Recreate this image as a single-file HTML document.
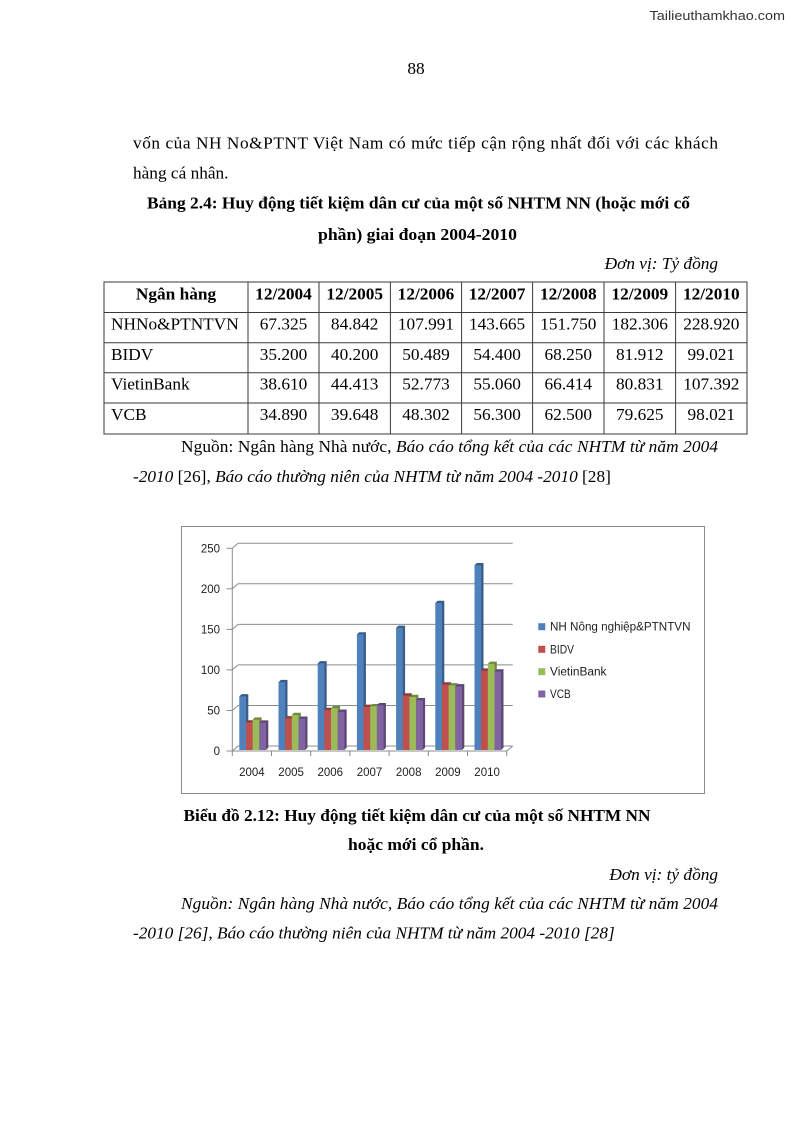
<!DOCTYPE html>
<html>
<head>
<meta charset="utf-8">
<style>
html,body{margin:0;padding:0;background:#fff;}
svg{display:block;}
.s{font-family:"Liberation Serif","Noto Serif CJK SC",serif;font-size:17.3px;fill:#000;white-space:pre;}
.b{font-weight:bold;}
.i{font-style:italic;}
.c{font-family:"Liberation Sans","DejaVu Sans",sans-serif;font-size:11.5px;fill:#222;}
.bl path{fill:#385D8A}.bl rect{fill:#4F81BD}
.rd path{fill:#8E3B39}.rd rect{fill:#C0504D}
.gr path{fill:#71893F}.gr rect{fill:#9BBB59}
.pu path{fill:#5C4776}.pu rect{fill:#8064A2}
</style>
</head>
<body>
<svg width="794" height="1123" viewBox="0 0 794 1123" xmlns="http://www.w3.org/2000/svg">
<rect x="0" y="0" width="794" height="1123" fill="#fff"/>

<!-- watermark -->
<text x="649.5" y="20" font-family="Liberation Sans, DejaVu Sans, sans-serif" font-size="13" fill="#333" textLength="135.5" lengthAdjust="spacingAndGlyphs">Tailieuthamkhao.com</text>

<!-- page number -->
<text class="s" x="416" y="74" text-anchor="middle">88</text>

<!-- paragraph -->
<text class="s" x="133" y="148.3" textLength="585" lengthAdjust="spacing">vốn của NH No&amp;PTNT Việt Nam có mức tiếp cận rộng nhất đối với các khách</text>
<text class="s" x="133" y="178.3">hàng cá nhân.</text>

<!-- table title -->
<text class="s b" x="147" y="208.3" textLength="543" lengthAdjust="spacingAndGlyphs">Bảng 2.4: Huy động tiết kiệm dân cư của một số NHTM NN (hoặc mới cổ</text>
<text class="s b" x="318" y="240" textLength="199" lengthAdjust="spacingAndGlyphs">phần) giai đoạn 2004-2010</text>
<text class="s i" x="718" y="269" text-anchor="end">Đơn vị: Tỷ đồng</text>

<!-- table -->
<g stroke="#3a3a3a" stroke-width="1" fill="none">
  <rect x="104" y="282" width="643" height="152"/>
  <line x1="104" y1="312.5" x2="747" y2="312.5"/>
  <line x1="104" y1="342.7" x2="747" y2="342.7"/>
  <line x1="104" y1="372.8" x2="747" y2="372.8"/>
  <line x1="104" y1="403" x2="747" y2="403"/>
  <line x1="248" y1="282" x2="248" y2="434"/>
  <line x1="319" y1="282" x2="319" y2="434"/>
  <line x1="390.4" y1="282" x2="390.4" y2="434"/>
  <line x1="461.6" y1="282" x2="461.6" y2="434"/>
  <line x1="532.6" y1="282" x2="532.6" y2="434"/>
  <line x1="604" y1="282" x2="604" y2="434"/>
  <line x1="675.6" y1="282" x2="675.6" y2="434"/>
</g>
<g text-anchor="middle">
  <text x="176" y="299.3" class="s b">Ngân hàng</text>
  <text x="283.5" y="299.3" class="s b">12/2004</text>
  <text x="354.7" y="299.3" class="s b">12/2005</text>
  <text x="426" y="299.3" class="s b">12/2006</text>
  <text x="497.1" y="299.3" class="s b">12/2007</text>
  <text x="568.3" y="299.3" class="s b">12/2008</text>
  <text x="639.8" y="299.3" class="s b">12/2009</text>
  <text x="711.3" y="299.3" class="s b">12/2010</text>
</g>
<g>
  <text x="111" y="329.3" class="s">NHNo&amp;PTNTVN</text>
  <text x="111" y="360" class="s">BIDV</text>
  <text x="111" y="389.3" class="s">VietinBank</text>
  <text x="111" y="420" class="s">VCB</text>
</g>
<g text-anchor="middle">
  <text class="s" x="283.5" y="329.3">67.325</text>
  <text class="s" x="354.7" y="329.3">84.842</text>
  <text class="s" x="426" y="329.3">107.991</text>
  <text class="s" x="497.1" y="329.3">143.665</text>
  <text class="s" x="568.3" y="329.3">151.750</text>
  <text class="s" x="639.8" y="329.3">182.306</text>
  <text class="s" x="711.3" y="329.3">228.920</text>

  <text class="s" x="283.5" y="360">35.200</text>
  <text class="s" x="354.7" y="360">40.200</text>
  <text class="s" x="426" y="360">50.489</text>
  <text class="s" x="497.1" y="360">54.400</text>
  <text class="s" x="568.3" y="360">68.250</text>
  <text class="s" x="639.8" y="360">81.912</text>
  <text class="s" x="711.3" y="360">99.021</text>

  <text class="s" x="283.5" y="389.3">38.610</text>
  <text class="s" x="354.7" y="389.3">44.413</text>
  <text class="s" x="426" y="389.3">52.773</text>
  <text class="s" x="497.1" y="389.3">55.060</text>
  <text class="s" x="568.3" y="389.3">66.414</text>
  <text class="s" x="639.8" y="389.3">80.831</text>
  <text class="s" x="711.3" y="389.3">107.392</text>

  <text class="s" x="283.5" y="420">34.890</text>
  <text class="s" x="354.7" y="420">39.648</text>
  <text class="s" x="426" y="420">48.302</text>
  <text class="s" x="497.1" y="420">56.300</text>
  <text class="s" x="568.3" y="420">62.500</text>
  <text class="s" x="639.8" y="420">79.625</text>
  <text class="s" x="711.3" y="420">98.021</text>
</g>

<!-- source under table -->
<text class="s" x="181" y="452" textLength="537" lengthAdjust="spacing">Nguồn: Ngân hàng Nhà nước, <tspan font-style="italic">Báo cáo tổng kết của các NHTM từ năm 2004</tspan></text>
<text class="s" x="133" y="482"><tspan font-style="italic">-2010</tspan> [26], <tspan font-style="italic">Báo cáo thường niên của NHTM từ năm 2004 -2010</tspan> [28]</text>

<!-- chart box -->
<rect x="181.5" y="526.5" width="523" height="267" fill="#fff" stroke="#8a8a8a" stroke-width="1"/>

<!-- gridlines (back wall) -->
<g stroke="#8c8c8c" stroke-width="1" fill="none">
  <line x1="238" y1="746" x2="512.7" y2="746"/>
  <line x1="238" y1="705.5" x2="512.7" y2="705.5"/>
  <line x1="238" y1="664.9" x2="512.7" y2="664.9"/>
  <line x1="238" y1="624.4" x2="512.7" y2="624.4"/>
  <line x1="238" y1="583.8" x2="512.7" y2="583.8"/>
  <line x1="238" y1="543.3" x2="512.7" y2="543.3"/>
  <line x1="232.3" y1="751" x2="238" y2="746"/>
  <line x1="232.3" y1="710.5" x2="238" y2="705.5"/>
  <line x1="232.3" y1="669.9" x2="238" y2="664.9"/>
  <line x1="232.3" y1="629.4" x2="238" y2="624.4"/>
  <line x1="232.3" y1="588.8" x2="238" y2="583.8"/>
  <line x1="232.3" y1="548.3" x2="238" y2="543.3"/>
  <line x1="226.5" y1="751" x2="232.3" y2="751"/>
  <line x1="226.5" y1="710.5" x2="232.3" y2="710.5"/>
  <line x1="226.5" y1="669.9" x2="232.3" y2="669.9"/>
  <line x1="226.5" y1="629.4" x2="232.3" y2="629.4"/>
  <line x1="226.5" y1="588.8" x2="232.3" y2="588.8"/>
  <line x1="226.5" y1="548.3" x2="232.3" y2="548.3"/>
  <line x1="232.3" y1="548.3" x2="232.3" y2="751"/>
  <line x1="232.3" y1="751" x2="506.7" y2="751"/>
  <line x1="506.7" y1="751" x2="512.7" y2="746"/>
  <line x1="232.3" y1="751" x2="232.3" y2="756"/>
  <line x1="271.5" y1="751" x2="271.5" y2="756"/>
  <line x1="310.7" y1="751" x2="310.7" y2="756"/>
  <line x1="349.9" y1="751" x2="349.9" y2="756"/>
  <line x1="389.1" y1="751" x2="389.1" y2="756"/>
  <line x1="428.3" y1="751" x2="428.3" y2="756"/>
  <line x1="467.5" y1="751" x2="467.5" y2="756"/>
  <line x1="506.7" y1="751" x2="506.7" y2="756"/>
</g>

<!-- bars -->
<g class="bl" transform="translate(239.3 0)"><path d="M0 696.4l2.3-2.3h6.7V747.7l-2.3 2.3z"/><rect x="0" y="696.4" width="6.7" height="53.6"/></g>
<g class="rd" transform="translate(246 0)"><path d="M0 722.5l2.3-2.3h6.7V747.7l-2.3 2.3z"/><rect x="0" y="722.5" width="6.7" height="27.5"/></g>
<g class="gr" transform="translate(252.6 0)"><path d="M0 719.7l2.3-2.3h6.7V747.7l-2.3 2.3z"/><rect x="0" y="719.7" width="6.7" height="30.3"/></g>
<g class="pu" transform="translate(259.3 0)"><path d="M0 722.7l2.3-2.3h6.7V747.7l-2.3 2.3z"/><rect x="0" y="722.7" width="6.7" height="27.3"/></g>

<g class="bl" transform="translate(278.5 0)"><path d="M0 682.2l2.3-2.3h6.7V747.7l-2.3 2.3z"/><rect x="0" y="682.2" width="6.7" height="67.8"/></g>
<g class="rd" transform="translate(285.2 0)"><path d="M0 718.4l2.3-2.3h6.7V747.7l-2.3 2.3z"/><rect x="0" y="718.4" width="6.7" height="31.6"/></g>
<g class="gr" transform="translate(291.8 0)"><path d="M0 715l2.3-2.3h6.7V747.7l-2.3 2.3z"/><rect x="0" y="715" width="6.7" height="35"/></g>
<g class="pu" transform="translate(298.5 0)"><path d="M0 718.8l2.3-2.3h6.7V747.7l-2.3 2.3z"/><rect x="0" y="718.8" width="6.7" height="31.2"/></g>

<g class="bl" transform="translate(317.7 0)"><path d="M0 663.4l2.3-2.3h6.7V747.7l-2.3 2.3z"/><rect x="0" y="663.4" width="6.7" height="86.6"/></g>
<g class="rd" transform="translate(324.4 0)"><path d="M0 710.1l2.3-2.3h6.7V747.7l-2.3 2.3z"/><rect x="0" y="710.1" width="6.7" height="39.9"/></g>
<g class="gr" transform="translate(331 0)"><path d="M0 708.2l2.3-2.3h6.7V747.7l-2.3 2.3z"/><rect x="0" y="708.2" width="6.7" height="41.8"/></g>
<g class="pu" transform="translate(337.7 0)"><path d="M0 711.8l2.3-2.3h6.7V747.7l-2.3 2.3z"/><rect x="0" y="711.8" width="6.7" height="38.2"/></g>

<g class="bl" transform="translate(356.9 0)"><path d="M0 634.5l2.3-2.3h6.7V747.7l-2.3 2.3z"/><rect x="0" y="634.5" width="6.7" height="115.5"/></g>
<g class="rd" transform="translate(363.6 0)"><path d="M0 706.9l2.3-2.3h6.7V747.7l-2.3 2.3z"/><rect x="0" y="706.9" width="6.7" height="43.1"/></g>
<g class="gr" transform="translate(370.2 0)"><path d="M0 706.3l2.3-2.3h6.7V747.7l-2.3 2.3z"/><rect x="0" y="706.3" width="6.7" height="43.7"/></g>
<g class="pu" transform="translate(376.9 0)"><path d="M0 705.3l2.3-2.3h6.7V747.7l-2.3 2.3z"/><rect x="0" y="705.3" width="6.7" height="44.7"/></g>

<g class="bl" transform="translate(396.1 0)"><path d="M0 627.9l2.3-2.3h6.7V747.7l-2.3 2.3z"/><rect x="0" y="627.9" width="6.7" height="122.1"/></g>
<g class="rd" transform="translate(402.8 0)"><path d="M0 695.6l2.3-2.3h6.7V747.7l-2.3 2.3z"/><rect x="0" y="695.6" width="6.7" height="54.4"/></g>
<g class="gr" transform="translate(409.4 0)"><path d="M0 697.1l2.3-2.3h6.7V747.7l-2.3 2.3z"/><rect x="0" y="697.1" width="6.7" height="52.9"/></g>
<g class="pu" transform="translate(416.1 0)"><path d="M0 700.3l2.3-2.3h6.7V747.7l-2.3 2.3z"/><rect x="0" y="700.3" width="6.7" height="49.7"/></g>

<g class="bl" transform="translate(435.3 0)"><path d="M0 603.1l2.3-2.3h6.7V747.7l-2.3 2.3z"/><rect x="0" y="603.1" width="6.7" height="146.9"/></g>
<g class="rd" transform="translate(442 0)"><path d="M0 684.6l2.3-2.3h6.7V747.7l-2.3 2.3z"/><rect x="0" y="684.6" width="6.7" height="65.4"/></g>
<g class="gr" transform="translate(448.6 0)"><path d="M0 685.4l2.3-2.3h6.7V747.7l-2.3 2.3z"/><rect x="0" y="685.4" width="6.7" height="64.6"/></g>
<g class="pu" transform="translate(455.3 0)"><path d="M0 686.4l2.3-2.3h6.7V747.7l-2.3 2.3z"/><rect x="0" y="686.4" width="6.7" height="63.6"/></g>

<g class="bl" transform="translate(474.5 0)"><path d="M0 565.3l2.3-2.3h6.7V747.7l-2.3 2.3z"/><rect x="0" y="565.3" width="6.7" height="184.7"/></g>
<g class="rd" transform="translate(481.2 0)"><path d="M0 670.7l2.3-2.3h6.7V747.7l-2.3 2.3z"/><rect x="0" y="670.7" width="6.7" height="79.3"/></g>
<g class="gr" transform="translate(487.8 0)"><path d="M0 663.9l2.3-2.3h6.7V747.7l-2.3 2.3z"/><rect x="0" y="663.9" width="6.7" height="86.1"/></g>
<g class="pu" transform="translate(494.5 0)"><path d="M0 671.5l2.3-2.3h6.7V747.7l-2.3 2.3z"/><rect x="0" y="671.5" width="6.7" height="78.5"/></g>

<!-- y labels -->
<g text-anchor="end">
  <text class="c" x="220" y="755">0</text>
  <text class="c" x="220" y="714.5">50</text>
  <text class="c" x="220" y="674">100</text>
  <text class="c" x="220" y="633.4">150</text>
  <text class="c" x="220" y="592.8">200</text>
  <text class="c" x="220" y="552.3">250</text>
</g>
<!-- x labels -->
<g text-anchor="middle">
  <text class="c" x="251.9" y="776">2004</text>
  <text class="c" x="291.1" y="776">2005</text>
  <text class="c" x="330.3" y="776">2006</text>
  <text class="c" x="369.5" y="776">2007</text>
  <text class="c" x="408.7" y="776">2008</text>
  <text class="c" x="447.9" y="776">2009</text>
  <text class="c" x="487.1" y="776">2010</text>
</g>

<!-- legend -->
<rect x="538.3" y="623.2" width="7" height="7" fill="#4F81BD"/>
<rect x="538.3" y="645.8" width="7" height="7" fill="#C0504D"/>
<rect x="538.3" y="668.2" width="7" height="7" fill="#9BBB59"/>
<rect x="538.3" y="690.5" width="7" height="7" fill="#8064A2"/>
<text class="c" x="550" y="630.7" textLength="140.5" lengthAdjust="spacingAndGlyphs">NH Nông nghiệp&amp;PTNTVN</text>
<text class="c" x="550" y="653.3" textLength="24" lengthAdjust="spacingAndGlyphs">BIDV</text>
<text class="c" x="550" y="675.7" textLength="56.5" lengthAdjust="spacingAndGlyphs">VietinBank</text>
<text class="c" x="550" y="698" textLength="20.7" lengthAdjust="spacingAndGlyphs">VCB</text>

<!-- chart caption -->
<text class="s b" x="183.5" y="821" textLength="467" lengthAdjust="spacingAndGlyphs">Biểu đồ 2.12: Huy động tiết kiệm dân cư của một số NHTM NN</text>
<text class="s b" x="348" y="850" textLength="136" lengthAdjust="spacingAndGlyphs">hoặc mới cổ phần.</text>
<text class="s i" x="718" y="880" text-anchor="end">Đơn vị: tỷ đồng</text>
<text class="s i" x="181" y="909" textLength="537" lengthAdjust="spacing">Nguồn: Ngân hàng Nhà nước, Báo cáo tổng kết của các NHTM từ năm 2004</text>
<text class="s i" x="133" y="938.5">-2010 [26], Báo cáo thường niên của NHTM từ năm 2004 -2010 [28]</text>
</svg>
</body>
</html>
